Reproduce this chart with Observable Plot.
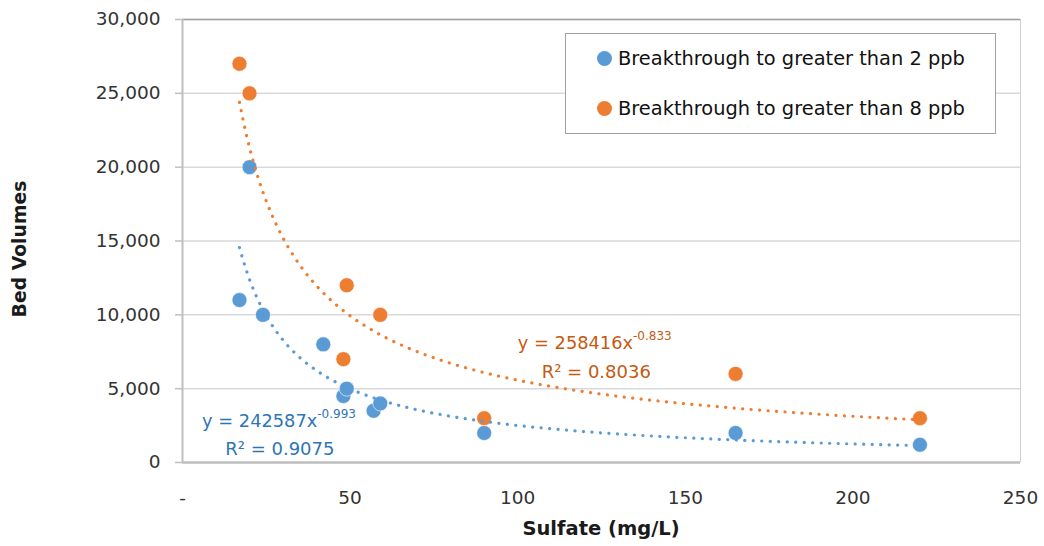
<!DOCTYPE html>
<html>
<head>
<meta charset="utf-8">
<script src="https://cdn.jsdelivr.net/npm/d3@7"></script>
<script src="https://cdn.jsdelivr.net/npm/@observablehq/plot@0.6"></script>
<style>
  html, body { margin: 0; padding: 0; background: #fff; }
  #wrap { position: relative; width: 1044px; height: 546px; font-family: "DejaVu Sans", sans-serif; }
  #wrap svg { position: absolute; left: 0; top: 0; }
  .legend { position: absolute; left: 565px; top: 33px; width: 429px; height: 99px; border: 1.5px solid #a0a0a0; background: #fff; box-sizing: content-box; }
  .legend .item { position: absolute; left: 31px; height: 24px; display: flex; align-items: center; font-size: 19.4px; color: #111; white-space: nowrap; }
  .legend .sw { width: 15px; height: 15px; border-radius: 50%; margin-right: 6px; flex: none; }
</style>
</head>
<body>
<div id="wrap"></div>
<script>
// ---- data ----
const seriesNames = ["Breakthrough to greater than 2 ppb", "Breakthrough to greater than 8 ppb"];
const sulfate2 = [17, 20, 24, 42, 48, 49, 57, 59, 90, 165, 220];
const bedVol2  = [11000, 20000, 10000, 8000, 4500, 5000, 3500, 4000, 2000, 2000, 1200];
const sulfate8 = [17, 20, 49, 59, 48, 90, 165, 220];
const bedVol8  = [27000, 25000, 12000, 10000, 7000, 3000, 6000, 3000];
// power trendline coefficients as printed on the chart: y = a * x^b
const trendA = [242587, 258416];
const trendB = [-0.993, -0.833];
const trendR2 = ["0.9075", "0.8036"];
const xTicks = [0, 50, 100, 150, 200, 250];
const xTickLabels = ["-", "50", "100", "150", "200", "250"];
const yTicks = [0, 5000, 10000, 15000, 20000, 25000, 30000];
const xTitle = "Sulfate (mg/L)";
const yTitle = "Bed Volumes";

const colors = ["#5B9BD5", "#ED7D31"];
const textColors = ["#2E75B6", "#C55A11"];
const font = "'DejaVu Sans', sans-serif";

const pts = [
  ...sulfate2.map((x, i) => ({x, y: bedVol2[i], s: 0})),
  ...sulfate8.map((x, i) => ({x, y: bedVol8[i], s: 1}))
];
// trendline sampled between each series' min and max x
function trend(s, xs) {
  const [lo, hi] = d3.extent(xs);
  const n = 200;
  return d3.range(n + 1).map(i => {
    const x = lo + (hi - lo) * i / n;
    return {x, y: trendA[s] * Math.pow(x, trendB[s]), s};
  });
}
const trend2 = trend(0, sulfate2);
const trend8 = trend(1, sulfate8);

const plot = Plot.plot({
  width: 1044, height: 546,
  marginLeft: 182, marginRight: 24, marginTop: 19, marginBottom: 84,
  style: {fontFamily: font, fontSize: "18px", color: "#333", background: "transparent"},
  x: {domain: [0, 250], label: null},
  y: {domain: [0, 30000], label: null},
  marks: [
    Plot.gridY(yTicks, {stroke: "#d9d9d9", strokeOpacity: 1, strokeWidth: 1.5}),
    Plot.ruleX([250], {stroke: "#d0d0d0", strokeWidth: 1}),
    Plot.ruleY([30000], {stroke: "#a0a0a0", strokeWidth: 1.5}),
    Plot.ruleX([0], {stroke: "#bfbfbf", strokeWidth: 2}),
    Plot.ruleY([0], {stroke: "#bfbfbf", strokeWidth: 2.5}),
    Plot.axisY(yTicks, {tickFormat: d3.format(","), tickSize: 7, tickPadding: 15, stroke: "#bfbfbf", strokeWidth: 1.5, fill: "#333", fontSize: 18.5, label: null}),
    Plot.axisX(xTicks, {tickFormat: d => xTickLabels[xTicks.indexOf(d)], tickSize: 0, tickPadding: 28, fill: "#333", fontSize: 18.5, label: null}),
    Plot.dot(pts, {x: "x", y: "y", r: 7.5, fill: d => colors[d.s], stroke: "#fff", strokeWidth: 0.6}),
    Plot.line(trend2, {x: "x", y: "y", stroke: colors[0], strokeWidth: 3.2, strokeDasharray: "0.1 8.4", strokeLinecap: "round"}),
    Plot.line(trend8, {x: "x", y: "y", stroke: colors[1], strokeWidth: 3.2, strokeDasharray: "0.1 8.4", strokeLinecap: "round"})
  ]
});

const wrap = document.getElementById("wrap");
wrap.appendChild(plot);

const svg = d3.select(plot);
const sx = plot.scale("x"), sy = plot.scale("y");

// axis titles
svg.append("text")
  .attr("x", (sx.apply(0) + sx.apply(250)) / 2).attr("y", 528)
  .attr("text-anchor", "middle").attr("dominant-baseline", "central")
  .attr("font-family", font).attr("font-size", 19.5).attr("font-weight", "bold").attr("fill", "#1a1a1a")
  .text(xTitle);
svg.append("text")
  .attr("transform", "translate(19,249) rotate(-90)")
  .attr("text-anchor", "middle").attr("dominant-baseline", "central")
  .attr("font-family", font).attr("font-size", 18.8).attr("font-weight", "bold").attr("fill", "#1a1a1a")
  .text(yTitle);

// trendline equation labels placed via the plot's scales (left edge, baseline)
const labelPos = [
  {eq: [6, 2375], r2: [12.9, 475]},
  {eq: [100.2, 7650], r2: [107.3, 5690]}
];
labelPos.forEach((p, s) => {
  const t = svg.append("text")
    .attr("x", sx.apply(p.eq[0])).attr("y", sy.apply(p.eq[1]))
    .attr("text-anchor", "start")
    .attr("fill", textColors[s]).attr("font-family", font).attr("font-size", 17.8);
  t.append("tspan").text(`y = ${trendA[s]}x`);
  t.append("tspan").attr("font-size", 12).attr("dy", -9).text(`${trendB[s]}`);
  svg.append("text")
    .attr("x", sx.apply(p.r2[0])).attr("y", sy.apply(p.r2[1]))
    .attr("text-anchor", "start")
    .attr("fill", textColors[s]).attr("font-family", font).attr("font-size", 18)
    .text(`R² = ${trendR2[s]}`);
});

// legend
const lg = document.createElement("div");
lg.className = "legend";
seriesNames.forEach((name, i) => {
  const it = document.createElement("div");
  it.className = "item";
  it.style.top = (i === 0 ? 12.5 : 62.5) + "px";
  const sw = document.createElement("span");
  sw.className = "sw";
  sw.style.background = colors[i];
  const tx = document.createElement("span");
  tx.textContent = name;
  it.appendChild(sw); it.appendChild(tx);
  lg.appendChild(it);
});
wrap.appendChild(lg);
</script>
</body>
</html>
